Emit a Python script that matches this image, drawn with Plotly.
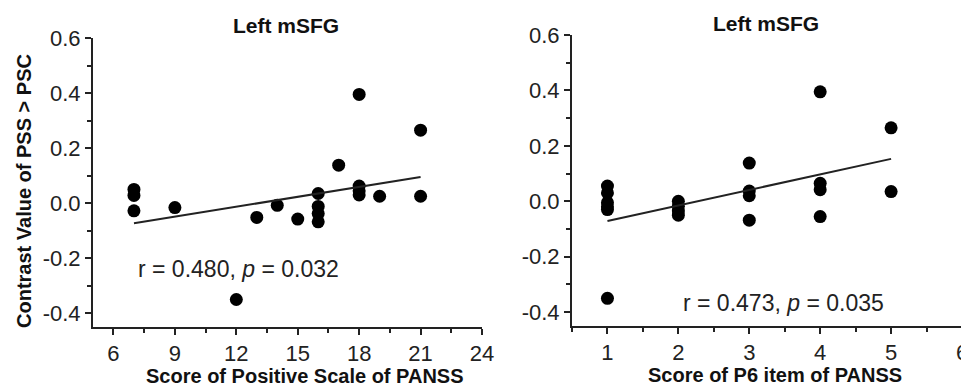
import plotly.graph_objects as go

# ---- data ----
panss_pos = [7, 7, 7, 9, 12, 13, 14, 15, 16, 16, 16, 16, 17, 18, 18, 18, 18, 19, 21, 21]
contrast_left = [0.05, 0.028, -0.028, -0.016, -0.35, -0.052, -0.008, -0.058, 0.035, -0.012,
                 -0.038, -0.068, 0.138, 0.395, 0.062, 0.045, 0.03, 0.025, 0.265, 0.025]

p6_score = [1, 1, 1, 1, 1, 1, 2, 2, 2, 2, 3, 3, 3, 3, 4, 4, 4, 4, 5, 5]
contrast_right = [0.055, 0.03, -0.005, -0.02, -0.03, -0.35, 0.0, -0.018, -0.035, -0.05,
                  0.138, 0.037, 0.02, -0.068, 0.395, 0.065, 0.042, -0.055, 0.265, 0.035]

fit_left_x = [7, 21]
fit_left_y = [-0.073, 0.095]
fit_right_x = [1, 5]
fit_right_y = [-0.071, 0.153]

y_tickvals = [-0.4, -0.2, 0.0, 0.2, 0.4, 0.6]
y_ticktext = ["-0.4", "-0.2", "0.0", "0.2", "0.4", "0.6"]
x_left_tickvals = [6, 9, 12, 15, 18, 21, 24]
x_right_tickvals = [1, 2, 3, 4, 5, 6]

titles = ["Left mSFG", "Left mSFG"]
x_titles = ["Score of Positive Scale of PANSS", "Score of P6 item of PANSS"]
y_title = "Contrast Value of PSS > PSC"
stats = ["r = 0.480, <i>p</i> = 0.032", "r = 0.473, <i>p</i> = 0.035"]

# page body has an 8px default margin: the figure is sized to fit inside the window
OFF = 8
WIN_W, WIN_H = 969, 388
W, H = WIN_W - OFF, WIN_H - OFF
FONT = "Liberation Sans, Arial, sans-serif"
TXT = "#222222"

fig = go.Figure()
fig.add_trace(go.Scatter(x=panss_pos, y=contrast_left, mode="markers",
                         marker=dict(color="black", size=13), xaxis="x", yaxis="y"))
fig.add_trace(go.Scatter(x=fit_left_x, y=fit_left_y, mode="lines",
                         line=dict(color="#222222", width=2), xaxis="x", yaxis="y"))
fig.add_trace(go.Scatter(x=p6_score, y=contrast_right, mode="markers",
                         marker=dict(color="black", size=13), xaxis="x2", yaxis="y2"))
fig.add_trace(go.Scatter(x=fit_right_x, y=fit_right_y, mode="lines",
                         line=dict(color="#222222", width=2), xaxis="x2", yaxis="y2"))

common_axis = dict(showline=True, linecolor="#222222", linewidth=2, ticks="outside",
                   ticklen=6, tickwidth=1.5, tickcolor="#222222", showgrid=False,
                   zeroline=False, automargin=False,
                   tickfont=dict(family=FONT, size=22, color=TXT))

def px_x(p):
    return (p - OFF) / W

def px_y(p):
    return 1 - (p - OFF) / H

fig.update_layout(
    template="none",
    width=W, height=H, margin=dict(l=0, r=0, t=0, b=0, pad=0), autosize=False,
    paper_bgcolor="white", plot_bgcolor="white", showlegend=False,
    xaxis=dict(domain=[px_x(93), px_x(482)], range=[5, 24], anchor="y",
               tickmode="array", tickvals=x_left_tickvals,
               minor=dict(ticks="outside", ticklen=4, tickmode="linear", tick0=4.5, dtick=1.5,
                          tickcolor="#222222"),
               **common_axis),
    yaxis=dict(domain=[px_y(327), px_y(38)], range=[-0.45, 0.6], anchor="x",
               tickmode="array", tickvals=y_tickvals, ticktext=y_ticktext,
               minor=dict(ticks="outside", ticklen=4, tickmode="linear", tick0=0, dtick=0.1,
                          tickcolor="#222222"),
               **common_axis),
    xaxis2=dict(domain=[px_x(572), px_x(962)], range=[0.5, 6], anchor="y2",
                tickmode="array", tickvals=x_right_tickvals,
                minor=dict(ticks="outside", ticklen=4, tickmode="linear", tick0=0.5, dtick=0.5,
                           tickcolor="#222222"),
                **common_axis),
    yaxis2=dict(domain=[px_y(326), px_y(35)], range=[-0.45, 0.6], anchor="x2",
                tickmode="array", tickvals=y_tickvals, ticktext=y_ticktext,
                minor=dict(ticks="outside", ticklen=4, tickmode="linear", tick0=0, dtick=0.1,
                           tickcolor="#222222"),
                **common_axis),
)

ann = []
title_pos = [(286, 25), (766, 23)]
for t, (x, y) in zip(titles, title_pos):
    ann.append(dict(text="<b>%s</b>" % t, x=px_x(x), y=px_y(y), xref="paper", yref="paper",
                    showarrow=False, font=dict(family=FONT, size=21, color="#111111"),
                    xanchor="center", yanchor="middle"))
xt_pos = [(305, 376), (775, 375)]
for t, (x, y) in zip(x_titles, xt_pos):
    ann.append(dict(text="<b>%s</b>" % t, x=px_x(x), y=px_y(y), xref="paper", yref="paper",
                    showarrow=False, font=dict(family=FONT, size=20, color="#111111"),
                    xanchor="center", yanchor="middle"))
ann.append(dict(text="<b>%s</b>" % y_title, x=px_x(24), y=px_y(191), xref="paper", yref="paper",
                showarrow=False, textangle=-90, font=dict(family=FONT, size=20, color="#111111"),
                xanchor="center", yanchor="middle"))
st_pos = [(238, 269), (783, 303)]
for t, (x, y) in zip(stats, st_pos):
    ann.append(dict(text=t, x=px_x(x), y=px_y(y), xref="paper", yref="paper",
                    showarrow=False, font=dict(family=FONT, size=23, color=TXT),
                    xanchor="center", yanchor="middle"))
fig.update_layout(annotations=ann)

fig.write_html("out.html")
